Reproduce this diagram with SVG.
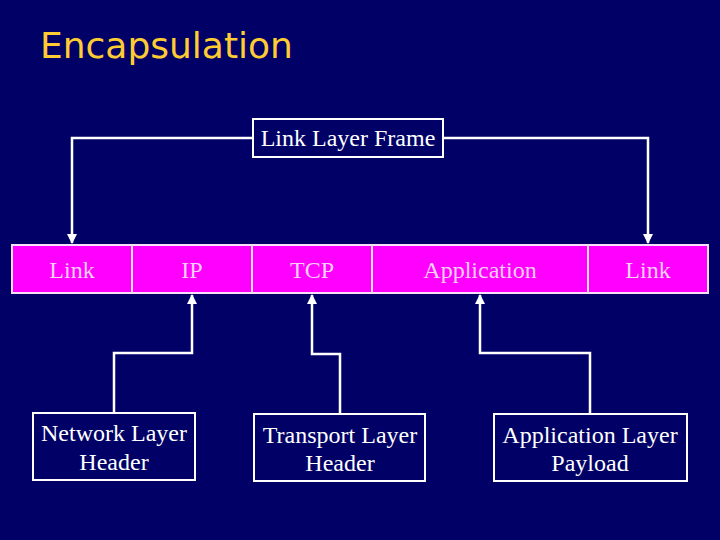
<svg xmlns="http://www.w3.org/2000/svg" width="720" height="540" viewBox="0 0 720 540">
<style>
.t{font-family:"Liberation Serif","Times New Roman",serif;font-size:24px;fill:#ffffff;text-anchor:middle}
.c{font-family:"Liberation Serif","Times New Roman",serif;font-size:24px;fill:#f8d0f8;text-anchor:middle}
.box{fill:#000066;stroke:#ffffff;stroke-width:2}
.cell{fill:#ff00ff;stroke:#f8e0f8;stroke-width:2}
.ln{fill:none;stroke:#ffffff;stroke-width:2.5}
</style>
<defs>
<marker id="ah" viewBox="0 0 10 10" refX="9" refY="5" markerWidth="4" markerHeight="4" orient="auto" markerUnits="strokeWidth">
<path d="M0,0 L10,5 L0,10 z" fill="#ffffff"/>
</marker>
</defs>
<rect width="720" height="540" fill="#000066"/>
<text x="40" y="58" font-family="'Comic Sans MS','DejaVu Sans',sans-serif" font-size="36" fill="#ffcc33">Encapsulation</text>
<g id="connectors">
<path class="ln" d="M253,138 H72 V243" marker-end="url(#ah)"/>
<path class="ln" d="M443,138 H648 V243" marker-end="url(#ah)"/>
<path class="ln" d="M114,413 V353 H192 V295" marker-end="url(#ah)"/>
<path class="ln" d="M340,414 V354 H312 V295" marker-end="url(#ah)"/>
<path class="ln" d="M590,414 V353 H480 V295" marker-end="url(#ah)"/>
</g>
<g id="frame">
<rect class="box" x="253" y="119" width="190" height="38"/>
<text class="t" x="348" y="146">Link Layer Frame</text>
</g>
<g id="packet">
<rect class="cell" x="12" y="245" width="120" height="48"/>
<rect class="cell" x="132" y="245" width="120" height="48"/>
<rect class="cell" x="252" y="245" width="120" height="48"/>
<rect class="cell" x="372" y="245" width="216" height="48"/>
<rect class="cell" x="588" y="245" width="120" height="48"/>
<text class="c" x="72" y="278">Link</text>
<text class="c" x="192" y="278">IP</text>
<text class="c" x="312" y="278">TCP</text>
<text class="c" x="480" y="278">Application</text>
<text class="c" x="648" y="278">Link</text>
</g>
<g id="network">
<rect class="box" x="33" y="413" width="162" height="67"/>
<text class="t" x="114" y="441">Network Layer</text>
<text class="t" x="114" y="470">Header</text>
</g>
<g id="transport">
<rect class="box" x="254" y="414" width="171" height="67"/>
<text class="t" x="340" y="443">Transport Layer</text>
<text class="t" x="340" y="471">Header</text>
</g>
<g id="application">
<rect class="box" x="494" y="414" width="193" height="67"/>
<text class="t" x="590" y="443">Application Layer</text>
<text class="t" x="590" y="471">Payload</text>
</g>
</svg>
